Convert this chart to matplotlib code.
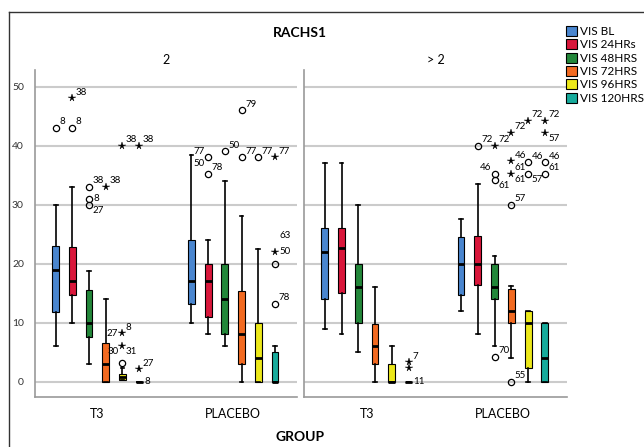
import matplotlib.pyplot as plt
from matplotlib.patches import Patch
from matplotlib.lines import Line2D
import numpy as np

plt.rcParams['font.family'] = ['Lato', 'DejaVu Sans']

series = ['VIS BL', 'VIS 24HRs', 'VIS 48HRS', 'VIS 72HRS', 'VIS 96HRS', 'VIS 120HRS']
colors = ['#4a86cf', '#d9173b', '#23873a', '#f26a21', '#ece81a', '#17ab9c']
groups = ['T3', 'PLACEBO']
panels = ['2', '> 2']

# [whisker low, q1, median, q3, whisker high] for each series
p1_t3 = [[6, 11.8, 19, 23, 30], [10, 14.6, 17, 22.8, 33], [3, 7.6, 10, 15.6, 18.7],
         [0, 0, 3, 6.6, 14], [0.2, 0.2, 0.8, 1.3, 2.3], [0, 0, 0, 0, 0]]
p1_pl = [[10, 13.2, 17, 24, 38.4], [8, 11, 17, 20, 24], [6, 8, 14, 20, 34],
         [0, 3, 8, 15.3, 28], [0, 0, 4, 10, 22.5], [0, 0, 0, 5, 6]]
p2_t3 = [[9, 14, 22, 26, 37], [8, 15, 22.7, 26, 37], [5, 10, 16, 20, 30],
         [0, 3, 6, 9.7, 16], [0, 0, 0, 3, 6], [0, 0, 0, 0, 0]]
p2_pl = [[12, 14.6, 20, 24.5, 27.6], [8, 16.4, 20, 24.7, 33.5], [6, 14, 16, 20, 21.3],
         [4, 10, 12, 15.7, 16.2], [0, 2.3, 10, 12, 12], [0, 0, 4, 10, 10]]
stats = [[p1_t3, p1_pl], [p2_t3, p2_pl]]

# outliers: (panel, group, series, value, marker)
outliers = [
    (0, 0, 0, 43, 'o'), (0, 0, 1, 43, 'o'), (0, 0, 1, 48, '*'),
    (0, 0, 2, 33, 'o'), (0, 0, 2, 31, 'o'), (0, 0, 2, 30, 'o'), (0, 0, 3, 33, '*'),
    (0, 0, 4, 40, '*'), (0, 0, 4, 8.2, '*'), (0, 0, 4, 6.1, '*'), (0, 0, 4, 3.2, 'o'),
    (0, 0, 5, 40, '*'), (0, 0, 5, 2.1, '*'),
    (0, 1, 1, 38, 'o'), (0, 1, 1, 35.2, 'o'), (0, 1, 2, 39, 'o'),
    (0, 1, 3, 46, 'o'), (0, 1, 3, 38, 'o'), (0, 1, 4, 38, 'o'),
    (0, 1, 5, 38, '*'), (0, 1, 5, 22, '*'), (0, 1, 5, 20, 'o'), (0, 1, 5, 13.2, 'o'),
    (1, 0, 5, 3.3, '*'), (1, 0, 5, 2.3, '*'),
    (1, 1, 1, 40, 'o'), (1, 1, 2, 40, '*'), (1, 1, 2, 35.2, 'o'), (1, 1, 2, 34.2, 'o'),
    (1, 1, 2, 4.2, 'o'), (1, 1, 3, 42.2, '*'), (1, 1, 3, 37.3, '*'), (1, 1, 3, 35.2, '*'),
    (1, 1, 3, 30, 'o'), (1, 1, 3, 0, 'o'), (1, 1, 4, 44.2, '*'), (1, 1, 4, 37.2, 'o'),
    (1, 1, 4, 35.2, 'o'), (1, 1, 5, 44.2, '*'), (1, 1, 5, 42.2, '*'), (1, 1, 5, 37.2, 'o'),
    (1, 1, 5, 35.2, 'o'),
]

# case labels: (panel, group, series, value, text, side)
case_labels = [
    (0, 0, 0, 43, '8', 'ur'), (0, 0, 1, 43, '8', 'ur'), (0, 0, 1, 48, '38', 'ur'),
    (0, 0, 2, 33, '38', 'ur'), (0, 0, 2, 31, '8', 'r'), (0, 0, 2, 30, '27', 'dr'),
    (0, 0, 3, 33, '38', 'ur'), (0, 0, 4, 40, '38', 'ur'), (0, 0, 5, 40, '38', 'ur'),
    (0, 0, 4, 8.2, '27', 'l'), (0, 0, 4, 8.2, '8', 'ur'),
    (0, 0, 4, 6.1, '30', 'dl'), (0, 0, 4, 6.1, '31', 'dr'),
    (0, 0, 5, 2.1, '27', 'ur'), (0, 0, 5, 0, '8', 'r'),
    (0, 1, 1, 38, '77', 'ul'), (0, 1, 1, 38, '50', 'dl'), (0, 1, 1, 35.2, '78', 'ur'),
    (0, 1, 2, 39, '50', 'ur'), (0, 1, 3, 46, '79', 'ur'), (0, 1, 3, 38, '77', 'ur'),
    (0, 1, 4, 38, '77', 'ur'), (0, 1, 5, 38, '77', 'ur'), (0, 1, 5, 22, '50', 'r'),
    (0, 1, 5, 24.8, '63', 'r'), (0, 1, 5, 13.2, '78', 'ur'),
    (1, 0, 5, 3.3, '7', 'ur'), (1, 0, 5, 0, '11', 'r'),
    (1, 1, 1, 40, '72', 'ur'), (1, 1, 2, 40, '72', 'ur'), (1, 1, 2, 35.2, '46', 'ul'),
    (1, 1, 2, 34.2, '61', 'dr'), (1, 1, 2, 4.2, '70', 'ur'),
    (1, 1, 3, 42.2, '72', 'ur'), (1, 1, 3, 37.3, '46', 'ur'), (1, 1, 3, 35.2, '61', 'ur'),
    (1, 1, 3, 35.2, '61', 'dr'), (1, 1, 3, 30, '57', 'ur'), (1, 1, 3, 0, '55', 'ur'),
    (1, 1, 4, 44.2, '72', 'ur'), (1, 1, 4, 37.2, '46', 'ur'), (1, 1, 4, 35.2, '57', 'dr'),
    (1, 1, 5, 44.2, '72', 'ur'), (1, 1, 5, 42.2, '57', 'dr'), (1, 1, 5, 37.2, '46', 'ur'),
    (1, 1, 5, 37.2, '61', 'dr'),
]

sides = {
    'ur': ((2.5, 1), 'left', 'bottom'), 'dr': ((2.5, -1), 'left', 'top'),
    'ul': ((-2.5, 1), 'right', 'bottom'), 'dl': ((-2.5, -1), 'right', 'top'),
    'r': ((3.5, 0), 'left', 'center'), 'l': ((-3.5, 0), 'right', 'center'),
}

offsets = (np.arange(6) - 2.5) * 0.123


def xpos(g, s):
    return g + 1 + offsets[s]


fig = plt.figure(figsize=(6.44, 4.47), dpi=100)
ax1 = fig.add_axes([35 / 644, 50 / 447, 262 / 644, 327 / 447])
ax2 = fig.add_axes([304 / 644, 50 / 447, 263 / 644, 327 / 447])
axes = [ax1, ax2]

for p, ax in enumerate(axes):
    ax.set_xlim(0.54, 2.47)
    ax.set_ylim(-2.6, 52.8)
    ax.set_yticks(range(0, 51, 10))
    ax.grid(axis='y', color='#cbcbcb', lw=1.5)
    ax.set_axisbelow(True)
    for sp in ['top', 'right']:
        ax.spines[sp].set_visible(False)
    ax.spines['left'].set_color('#9a9a9a')
    ax.spines['bottom'].set_color('#9a9a9a')
    ax.spines['left'].set_linewidth(1.2)
    ax.spines['bottom'].set_linewidth(1.2)
    ax.set_title(panels[p], fontsize=9, pad=4)

    for g in range(2):
        bstats = []
        for s in range(6):
            lo, q1, med, q3, hi = stats[p][g][s]
            bstats.append({'whislo': lo, 'q1': q1, 'med': med, 'q3': q3, 'whishi': hi,
                           'fliers': []})
        pos = [xpos(g, s) for s in range(6)]
        bp = ax.bxp(bstats, positions=pos, widths=0.05, patch_artist=True,
                    showfliers=False, manage_ticks=False, capwidths=0.028,
                    boxprops=dict(edgecolor='black', linewidth=0.8),
                    whiskerprops=dict(color='black', linewidth=1.2),
                    capprops=dict(color='black', linewidth=1.2),
                    medianprops=dict(color='black', linewidth=2))
        for patch, c in zip(bp['boxes'], colors):
            patch.set_facecolor(c)

    ax.set_xticks([1, 2], groups)
    ax.tick_params(axis='x', length=0, labelsize=9, pad=8)
    ax.tick_params(axis='y', length=0, labelsize=7.5, pad=8, labelcolor='#333333')

ax2.tick_params(axis='y', labelleft=False)

for p, g, s, v, m in outliers:
    if m == 'o':
        axes[p].plot(xpos(g, s), v, marker='o', mfc='none', mec='black', ms=4.5, mew=0.9)
    else:
        axes[p].plot(xpos(g, s), v, marker='*', color='black', ms=5.5, mew=0.3)

for p, g, s, v, t, side in case_labels:
    off, ha, va = sides[side]
    axes[p].annotate(t, (xpos(g, s), v), xytext=off, textcoords='offset points',
                     fontsize=7, ha=ha, va=va)

fig.text(300 / 644, 1 - 33 / 447, 'RACHS1', ha='center', va='center',
         fontsize=10, fontweight='bold')
fig.text(300 / 644, 1 - 437 / 447, 'GROUP', ha='center', va='center',
         fontsize=10, fontweight='bold')

# outer frame
fig.add_artist(Line2D([9 / 644, 1], [1 - 12 / 447, 1 - 12 / 447], color='#333333', lw=1))
fig.add_artist(Line2D([9 / 644, 9 / 644], [0, 1 - 12 / 447], color='#333333', lw=1))

handles = [Patch(facecolor=c, edgecolor='black', linewidth=0.8) for c in colors]
fig.legend(handles, series, loc='upper left', bbox_to_anchor=(566 / 644, 1 - 26 / 447),
           frameon=False, fontsize=8.5, handlelength=0.9, handleheight=0.9,
           labelspacing=0.2, handletextpad=0.3, borderpad=0, borderaxespad=0)

fig.savefig('out.png', dpi=100)
